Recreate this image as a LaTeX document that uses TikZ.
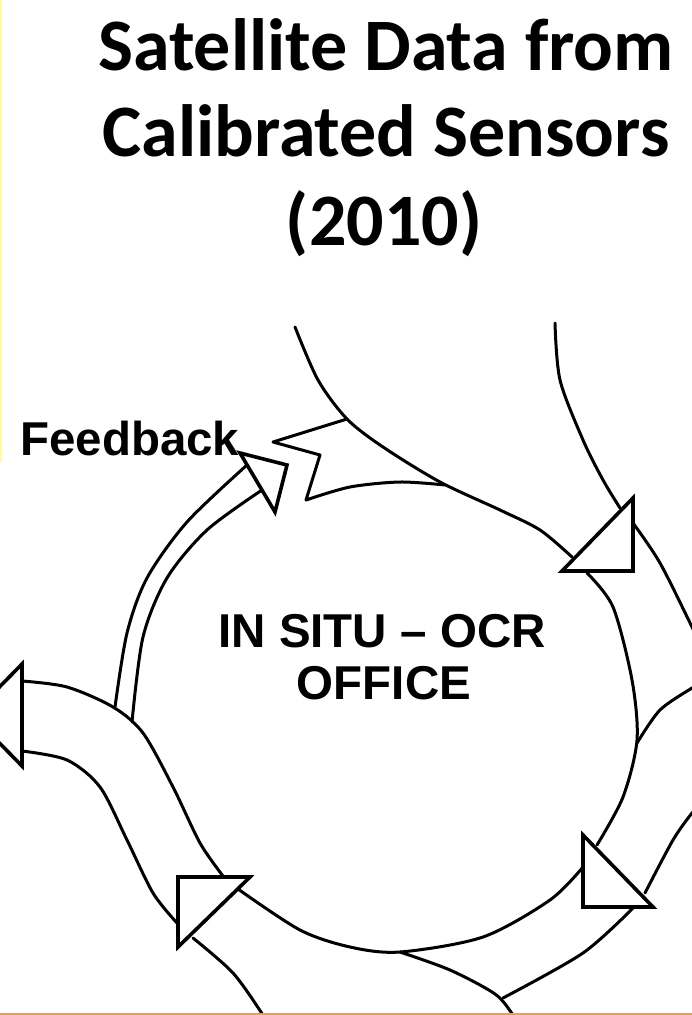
\documentclass[tikz,border=0pt]{standalone}
\usepackage{fontspec}
\setmainfont{Liberation Sans}
\newfontfamily\titlefont{Carlito}
\usepackage{tikz}
\definecolor{edgeyellow}{RGB}{255,255,150}
\definecolor{edgeorange}{RGB}{247,160,40}

\begin{document}
\begin{tikzpicture}[x=1pt, y=-1pt,
  band/.style={line width=3pt, line cap=round, line join=round},
  head/.style={draw, fill=white, line width=3.6pt, line join=miter},
  titletext/.style={font=\titlefont\bfseries\fontsize{74}{81}\selectfont, anchor=base, inner sep=0pt},
  bodytext/.style={font=\bfseries\fontsize{47.5}{52}\selectfont, anchor=base, inner sep=0pt}
]
\useasboundingbox (0,0) rectangle (692,1015);

% title
\node[titletext] (title1) at (386,70) {Satellite Data from};
\node[titletext] (title2) at (386,156) {Calibrated Sensors};
\node[titletext] (title3) at (384,245) {(2010)};

\begin{scope}
\clip (0,0) rectangle (692,1015);
% top band and circle
\draw[band] plot[smooth] coordinates {(295,327) (318,380) (347,419) (383,447) (440,482) (500,510) (540,530) (572,557)};
\draw[band] (347,419) -- (273,442) -- (320,455) -- (306,500)
  plot[smooth] coordinates {(306,500) (350,487) (400,482) (445,485)};
\draw[band] plot[smooth] coordinates {(555,323) (560,380) (583,440) (603,480) (620,508)};
% right side
\draw[band] plot[smooth] coordinates {(633,523) (660,563) (692,627) (700,645)};
\draw[band] plot[smooth] coordinates {(587,573) (613,607) (632,680) (637,740) (623,797) (597,845)};
\draw[band] plot[smooth] coordinates {(700,684) (692,688) (660,710) (637,743)};
\draw[band] plot[smooth] coordinates {(700,805) (692,813) (673,840) (645,893)};
% bottom
\draw[band] plot[smooth] coordinates {(583,867) (550,900) (483,937) (400,952) (350,947) (300,930) (238,889)};
\draw[band] plot[smooth] coordinates {(633,908) (583,953) (503,998)};
\draw[band] plot[smooth] coordinates {(400,952) (450,970) (495,994) (513,1015) (518,1025)};
\draw[band] plot[smooth] coordinates {(193,938) (233,973) (263,1015) (268,1025)};
% left band
\draw[band] plot[smooth] coordinates {(22,681) (67,687) (113,707) (143,733) (173,787) (200,843) (223,876)};
\draw[band] plot[smooth] coordinates {(22,751) (67,760) (100,787) (127,840) (153,893) (177,923)};
% feedback
\draw[band] plot[smooth] coordinates {(115,707) (127,633) (147,578) (187,522) (247,465)};
\draw[band] plot[smooth] coordinates {(132,722) (143,637) (167,578) (207,530) (262,490)};
% heads
\draw[head] (562,571) -- (633,498) -- (633,571) -- cycle;
\draw[head] (583,835) -- (583,907) -- (653,907) -- cycle;
\draw[head] (178,877) -- (250,877) -- (178,947) -- cycle;
\draw[head] (22,664) -- (22,766) -- (-28,715) -- cycle;
\draw[head] (240,453) -- (287,465) -- (275,512) -- cycle;
\end{scope}

\node[bodytext, anchor=base west] (feedback) at (20,455) {Feedback};
\node[bodytext] (office1) at (382,647) {IN SITU – OCR};
\node[bodytext] (office2) at (384,699) {OFFICE};

% page edges
\draw[edgeyellow, line width=2pt] (1,0) -- (1,462);
\draw[edgeorange, line width=2pt] (0,1013.5) -- (692,1013.5);
\end{tikzpicture}
\end{document}
